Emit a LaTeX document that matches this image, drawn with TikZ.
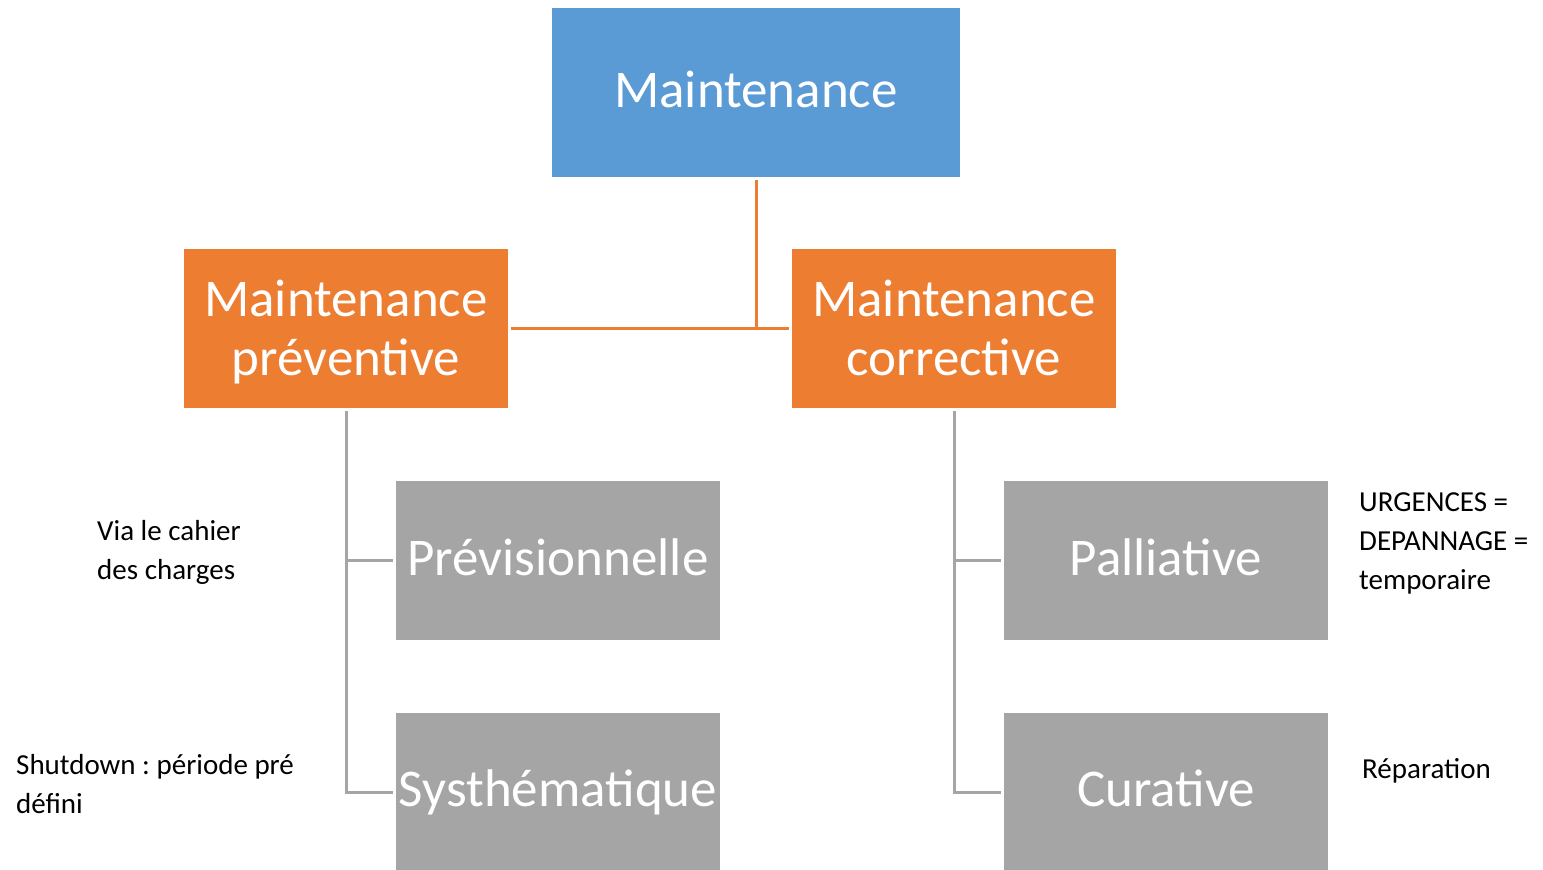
\documentclass[tikz,border=0pt]{standalone}
\usepackage{fontspec}
\setmainfont{Carlito}
\frenchspacing
\definecolor{mblue}{HTML}{5B9BD5}
\definecolor{morange}{HTML}{ED7D31}
\definecolor{mgray}{HTML}{A5A5A5}
\newcommand{\tl}{\rule{0pt}{48pt}}
\newcommand{\bl}{\rule[-14pt]{0pt}{14pt}}
\begin{document}
\begin{tikzpicture}[x=1pt,y=-1pt,
  box/.style={rectangle, inner sep=0pt, text=white, align=center},
  onebox/.style={box, text height=36pt, text depth=7pt, font=\fontsize{53}{59}\selectfont},
  bluebox/.style={onebox, fill=mblue, minimum width=408pt, minimum height=169pt},
  orangebox/.style={box, fill=morange, minimum width=324pt, minimum height=159pt, font=\fontsize{53}{59}\selectfont},
  graybox/.style={onebox, fill=mgray, minimum width=324pt, minimum height=159pt},
  oline/.style={draw=morange, line width=3pt},
  gline/.style={draw=mgray, line width=3pt},
  note/.style={anchor=base west, align=left, inner sep=0pt, font=\fontsize{29}{39}\selectfont\frenchspacing}
]
\useasboundingbox (0,0) rectangle (1543,870);
\begin{scope}
\clip (0,0) rectangle (1543,870);
\node[bluebox] (top) at (756,92.5) {Maintenance};
\node[orangebox] (mp) at (346,328.5) {\tl Maintenance\\préventive\bl};
\node[orangebox] (mc) at (954,328.5) {\tl Maintenance\\corrective\bl};
\node[graybox] (prev) at (558,560.5) {Prévisionnelle};
\node[graybox] (sys) at (558,792) {Systhématique};
\node[graybox] (pal) at (1166,560.5) {Palliative};
\node[graybox] (cur) at (1166,792) {Curative};

\coordinate (j) at (top.south |- mp.east);
\draw[oline] ([yshift=-3pt]top.south) -- (j);
\draw[oline] ([xshift=3pt]mp.east) -- ([xshift=-3pt]mc.west);

\draw[gline] ([yshift=-3pt]mp.south) |- ([xshift=-3pt]sys.west);
\draw[gline] (mp.south |- prev.west) -- ([xshift=-3pt]prev.west);
\draw[gline] ([yshift=-3pt]mc.south) |- ([xshift=-3pt]cur.west);
\draw[gline] (mc.south |- pal.west) -- ([xshift=-3pt]pal.west);

\node[note] (n1) at (97,579) {Via le cahier\\des charges};
\node[note] (n2) at (16,813) {Shutdown : période pré\\défini};
\node[note] (n3) at (1359,589) {URGENCES =\\DEPANNAGE =\\temporaire};
\node[note] (n4) at (1362,778) {Réparation};
\end{scope}
\end{tikzpicture}
\end{document}
